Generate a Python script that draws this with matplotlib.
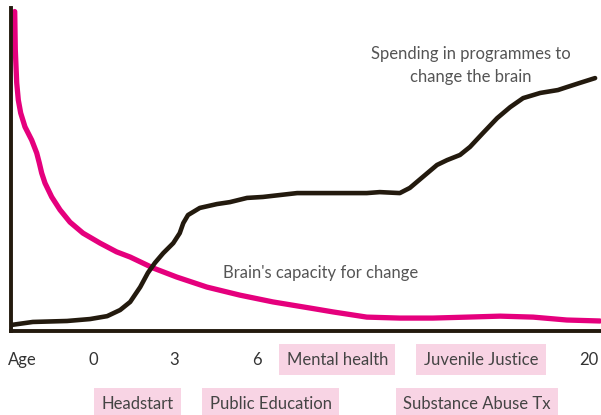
import numpy as np
import matplotlib
matplotlib.use("Agg")
import matplotlib.pyplot as plt

# ===============================
# data (0-100 scale on both axes)
# ===============================
capacity_x = [0.63, 0.73, 0.97, 1.24, 1.64, 2.37, 3.51, 4.36, 4.80, 5.20, 5.76, 6.90,
              8.31, 10.0, 12.2, 15.1, 17.9, 20.2, 24.1, 28.1, 33.2, 38.8, 44.4,
              50.7, 54.6, 60.3, 65.9, 71.5, 77.3, 82.9, 88.5, 94.2, 99.8]
capacity_y = [98.9, 87.0, 76.8, 71.5, 67.5, 63.2, 59.1, 55.1, 52.0, 48.9, 45.8, 41.5,
              37.5, 33.7, 30.3, 27.2, 24.5, 22.9, 19.5, 16.7, 13.6, 11.1, 9.0,
              7.1, 5.9, 4.3, 4.0, 4.0, 4.3, 4.6, 4.3, 3.4, 3.1]

spending_x = [0.17, 3.7, 9.5, 13.4, 16.3, 18.5, 20.2, 21.9, 23.2, 24.4, 25.8, 27.5,
              28.6, 29.2, 30.0, 32.0, 34.9, 37.1, 40.0, 42.7, 45.6, 48.5, 50.7,
              54.6, 60.3, 62.5, 65.9, 67.6, 69.8, 72.2, 73.9, 76.1, 77.8, 80.0,
              82.4, 84.6, 86.8, 89.7, 92.7, 94.2, 96.4, 99.0]
spending_y = [1.9, 2.8, 3.1, 3.7, 4.6, 6.5, 9.0, 13.6, 18.0, 21.1, 24.1, 27.2,
              30.3, 33.4, 35.9, 38.1, 39.3, 39.9, 41.2, 41.5, 42.1, 42.7, 42.7,
              42.7, 42.7, 43.0, 42.7, 44.3, 47.7, 51.4, 52.9, 54.5, 57.0, 61.3,
              65.9, 69.3, 72.1, 73.7, 74.6, 75.5, 76.8, 78.3]

age_labels = ["Age", "0", "3", "6", "20"]
age_pos = [1.9, 13.9, 27.6, 41.7, 98.0]

row1_programs = ["Mental health", "Juvenile Justice"]
row1_pos = [55.3, 79.7]
row2_programs = ["Headstart", "Public Education", "Substance Abuse Tx"]
row2_pos = [21.5, 44.0, 79.0]

# ===============================
# plot
# ===============================
plt.rcParams['font.family'] = ['Lato', 'DejaVu Sans']

pink = "#e5007d"
dark = "#231a0e"
box_pink = "#f8d4e4"

fig = plt.figure(figsize=(6.01, 4.15), dpi=100)
ax = fig.add_axes([11/601, 84/415, 590/601, 323/415])

ax.plot(capacity_x, capacity_y, color=pink, lw=3.8, solid_joinstyle="round",
        solid_capstyle="round")
ax.plot(spending_x, spending_y, color=dark, lw=3.3, solid_joinstyle="round",
        solid_capstyle="round")

ax.set_xlim(0, 100)
ax.set_ylim(0, 100)
for s in ["top", "right"]:
    ax.spines[s].set_visible(False)
for s in ["left", "bottom"]:
    ax.spines[s].set_color(dark)
    ax.spines[s].set_linewidth(2.8)
ax.set_xticks([])
ax.set_yticks([])

ax.text(78.0, 82.2, "Spending in programmes to\nchange the brain", ha="center",
        va="center", fontsize=12, color="#555555", linespacing=1.5)
ax.text(52.4, 18.0, "Brain's capacity for change", ha="center", va="center",
        fontsize=12, color="#555555")

tr = ax.get_xaxis_transform()
for lab, p in zip(age_labels, age_pos):
    ax.text(p, -0.089, lab, transform=tr, ha="center", va="center",
            fontsize=12, color="#333333", clip_on=False)
for lab, p in zip(row1_programs, row1_pos):
    ax.text(p, -0.089, lab, transform=tr, ha="center", va="center",
            fontsize=12, color="#444444", clip_on=False,
            bbox=dict(boxstyle="square,pad=0.45", fc=box_pink, ec="none"))
for lab, p in zip(row2_programs, row2_pos):
    ax.text(p, -0.226, lab, transform=tr, ha="center", va="center",
            fontsize=12, color="#444444", clip_on=False,
            bbox=dict(boxstyle="square,pad=0.45", fc=box_pink, ec="none"))

plt.savefig("out.png", dpi=100)
